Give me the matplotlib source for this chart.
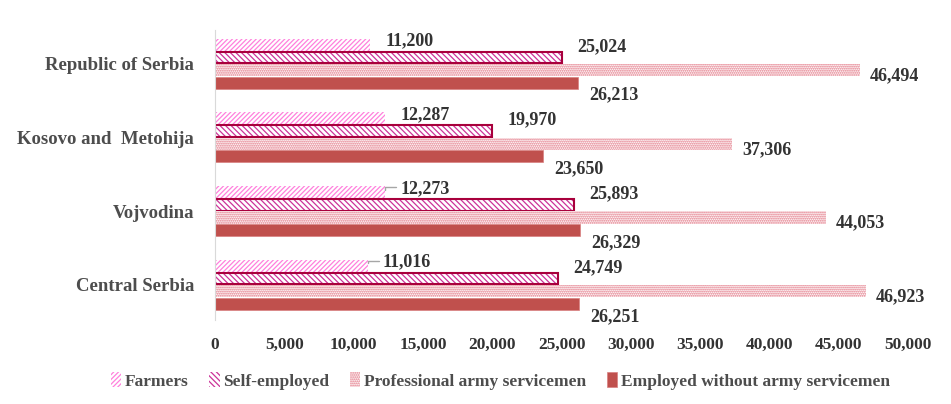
import numpy as np
import matplotlib.pyplot as plt

# Data
regions = ["Republic of Serbia", "Kosovo and  Metohija", "Vojvodina", "Central Serbia"]
farmers = [11200, 12287, 12273, 11016]
self_employed = [25024, 19970, 25893, 24749]
army = [46494, 37306, 44053, 46923]
employed = [26213, 23650, 26329, 26251]
xticks = np.arange(0, 50001, 5000)

plt.rcParams["font.family"] = ["Liberation Serif", "DejaVu Serif"]
plt.rcParams["font.weight"] = "bold"
plt.rcParams["hatch.linewidth"] = 0.9

fig = plt.figure(figsize=(9.51, 4.04), dpi=100)
ax = fig.add_axes([0.226, 0.208, 0.729, 0.718])

ypos = np.arange(len(regions))[::-1].astype(float)
h = 0.17

b1 = ax.barh(ypos + 1.5 * h, farmers, height=h, color="white",
             edgecolor="#ff80dd", hatch="///////", linewidth=0)
b2 = ax.barh(ypos + 0.5 * h, self_employed, height=h, color="white",
             edgecolor="#cc3399", hatch="\\\\\\\\\\\\", linewidth=0)
ax.barh(ypos + 0.5 * h, self_employed, height=h * 0.92, fill=False,
        edgecolor="#a8003c", linewidth=1.5)
b3 = ax.barh(ypos - 0.5 * h, army, height=h, color="white",
             edgecolor="#e06a7a", hatch="........", linewidth=0)
b4 = ax.barh(ypos - 1.5 * h, employed, height=h * 0.95, color="#c0504d",
             edgecolor="#d88080", linewidth=0.5)

lab = dict(fontsize=13, fontweight="bold", color="#333333", va="center", ha="left")
for i, y in enumerate(ypos):
    ax.annotate(f"{farmers[i]:,}", (farmers[i], y + 1.5 * h), xytext=(11, 3),
                textcoords="offset points", **lab)
    if i >= 2:
        ax.annotate("", (farmers[i], y + 1.5 * h), xytext=(farmers[i] + 1000, y + 1.5 * h + 0.07),
                    arrowprops=dict(arrowstyle="-", color="#a6a6a6", lw=1,
                                    connectionstyle="angle,angleA=0,angleB=90,rad=0"))
    ax.annotate(f"{self_employed[i]:,}", (self_employed[i], y + 0.5 * h), xytext=(11, 8),
                textcoords="offset points", **lab)
    ax.annotate(f"{army[i]:,}", (army[i], y - 0.5 * h), xytext=(7, -4),
                textcoords="offset points", **lab)
    ax.annotate(f"{employed[i]:,}", (employed[i], y - 1.5 * h), xytext=(8, -9),
                textcoords="offset points", **lab)

ax.set_xlim(0, 50000)
ax.set_ylim(-0.475, 3.46)
ax.set_xticks(xticks)
ax.set_xticklabels([f"{v:,}" for v in xticks], fontsize=12.5, fontweight="bold", color="#333333")
ax.set_yticks(ypos)
ax.set_yticklabels(regions, fontsize=13.5, fontweight="bold", color="#4d4d4d")
ax.tick_params(length=0, pad=15)
ax.tick_params(axis="x", pad=12)
for s in ["top", "right", "bottom"]:
    ax.spines[s].set_visible(False)
ax.spines["left"].set_color("#d9d9d9")

fig.legend([b1, b2, b3, b4],
           ["Farmers", "Self-employed", "Professional army servicemen", "Employed without army servicemen"],
           loc="center", bbox_to_anchor=(0.526, 0.057), ncol=4, frameon=False,
           prop=dict(size=12.5, weight="bold"), handlelength=0.6, handleheight=0.9,
           handletextpad=0.2, columnspacing=1.2, labelcolor="#4d4d4d")

fig.savefig("out.png", dpi=100)
